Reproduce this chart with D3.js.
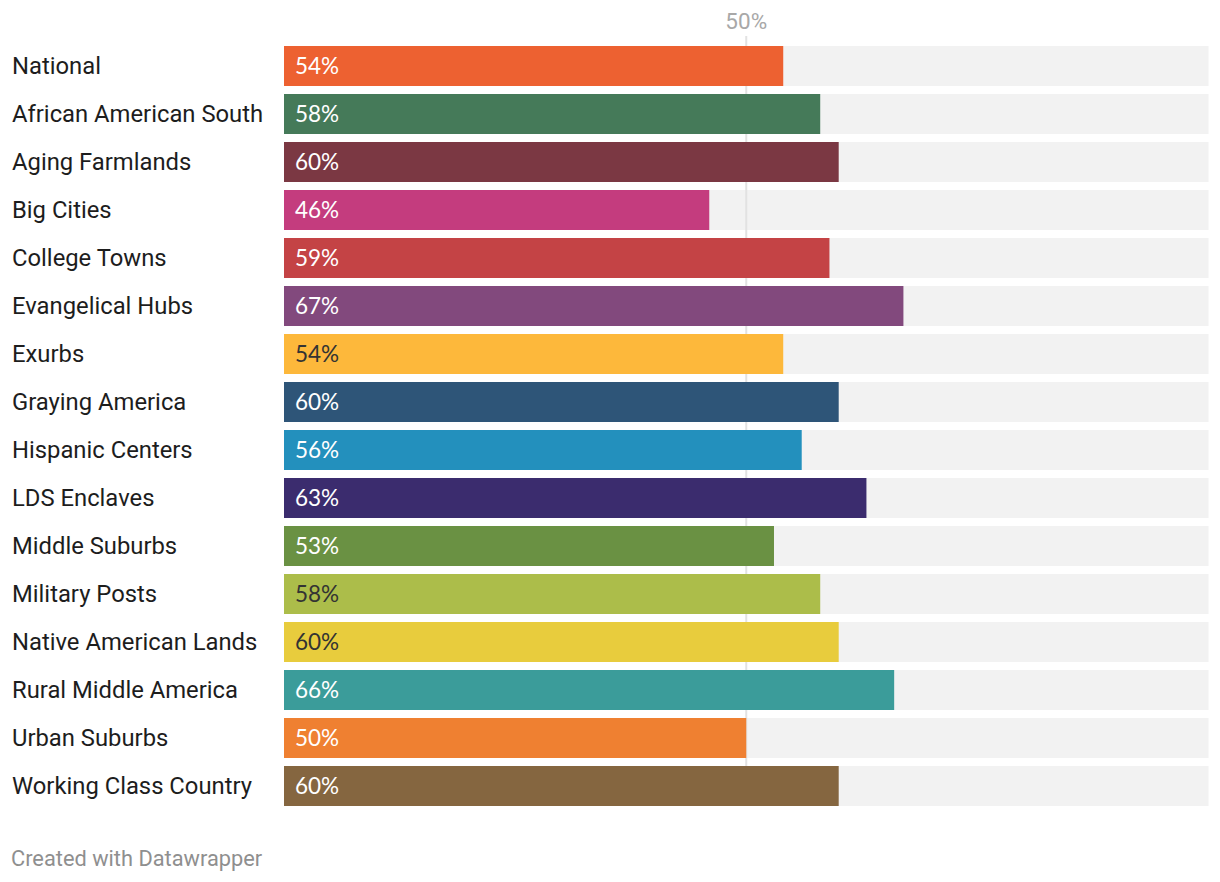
<!DOCTYPE html>
<html><head><meta charset="utf-8">
<script src="https://cdn.jsdelivr.net/npm/d3@7"></script>
<style>
html,body{margin:0;padding:0;background:#fff;}
svg{display:block;}
</style></head>
<body>
<svg id="chart" width="1220" height="882"></svg>
<script>
const categories = ["National","African American South","Aging Farmlands","Big Cities","College Towns","Evangelical Hubs","Exurbs","Graying America","Hispanic Centers","LDS Enclaves","Middle Suburbs","Military Posts","Native American Lands","Rural Middle America","Urban Suburbs","Working Class Country"];
const values = [54,58,60,46,59,67,54,60,56,63,53,58,60,66,50,60];
const colors = ["#ed6131","#457a59","#7b3843","#c43c7e","#c44345","#82497d","#fdb83b","#2e5578","#2390bd","#3b2c6e","#6a9143","#acbd4a","#e8cc3d","#3b9c9a","#ef8031","#856640"];
const darkText = ["Exurbs","Military Posts","Native American Lands"];
const tickValues = [50];

const svg = d3.select("#chart");
const x = d3.scaleLinear().domain([0,100]).range([284,1208.5]);
const bw = 40;
const yPos = c => 46 + categories.indexOf(c)*48;

svg.selectAll("rect.bg").data(categories).join("rect")
  .attr("class","bg").attr("x",x(0)).attr("y",d=>yPos(d)).attr("width",x(100)-x(0)).attr("height",bw)
  .attr("fill","#f2f2f2");

svg.selectAll("line.grid").data(tickValues).join("line")
  .attr("x1",d=>x(d)).attr("x2",d=>x(d)).attr("y1",36).attr("y2",806)
  .attr("stroke","#e2e2e2").attr("stroke-width",2);

svg.selectAll("text.tick").data(tickValues).join("text")
  .attr("x",d=>x(d)).attr("y",29).attr("text-anchor","middle")
  .attr("font-family","Roboto").attr("font-size","22.5px").attr("fill","#a8a8a8")
  .text(d=>d+"%");

svg.selectAll("rect.bar").data(categories).join("rect")
  .attr("class","bar").attr("x",x(0)).attr("y",d=>yPos(d))
  .attr("width",(d,i)=>x(values[i])-x(0)).attr("height",bw)
  .attr("fill",(d,i)=>colors[i]);

svg.selectAll("text.val").data(categories).join("text")
  .attr("x",x(0)+11).attr("y",d=>yPos(d)+bw/2).attr("dy","0.36em")
  .attr("font-family","Lato").attr("font-size","22.5px")
  .attr("fill",d=>darkText.includes(d)?"#333":"#fff")
  .text((d,i)=>values[i]+"%");

svg.selectAll("text.cat").data(categories).join("text")
  .attr("x",12).attr("y",d=>yPos(d)+bw/2).attr("dy","0.32em")
  .attr("font-family","Roboto").attr("font-size","23.8px").attr("fill","#1d1d1d")
  .text(d=>d);

svg.append("text").attr("x",11).attr("y",866)
  .attr("font-family","Roboto").attr("font-size","21.8px").attr("fill","#8f8f8f")
  .text("Created with Datawrapper");
</script>
</body></html>
